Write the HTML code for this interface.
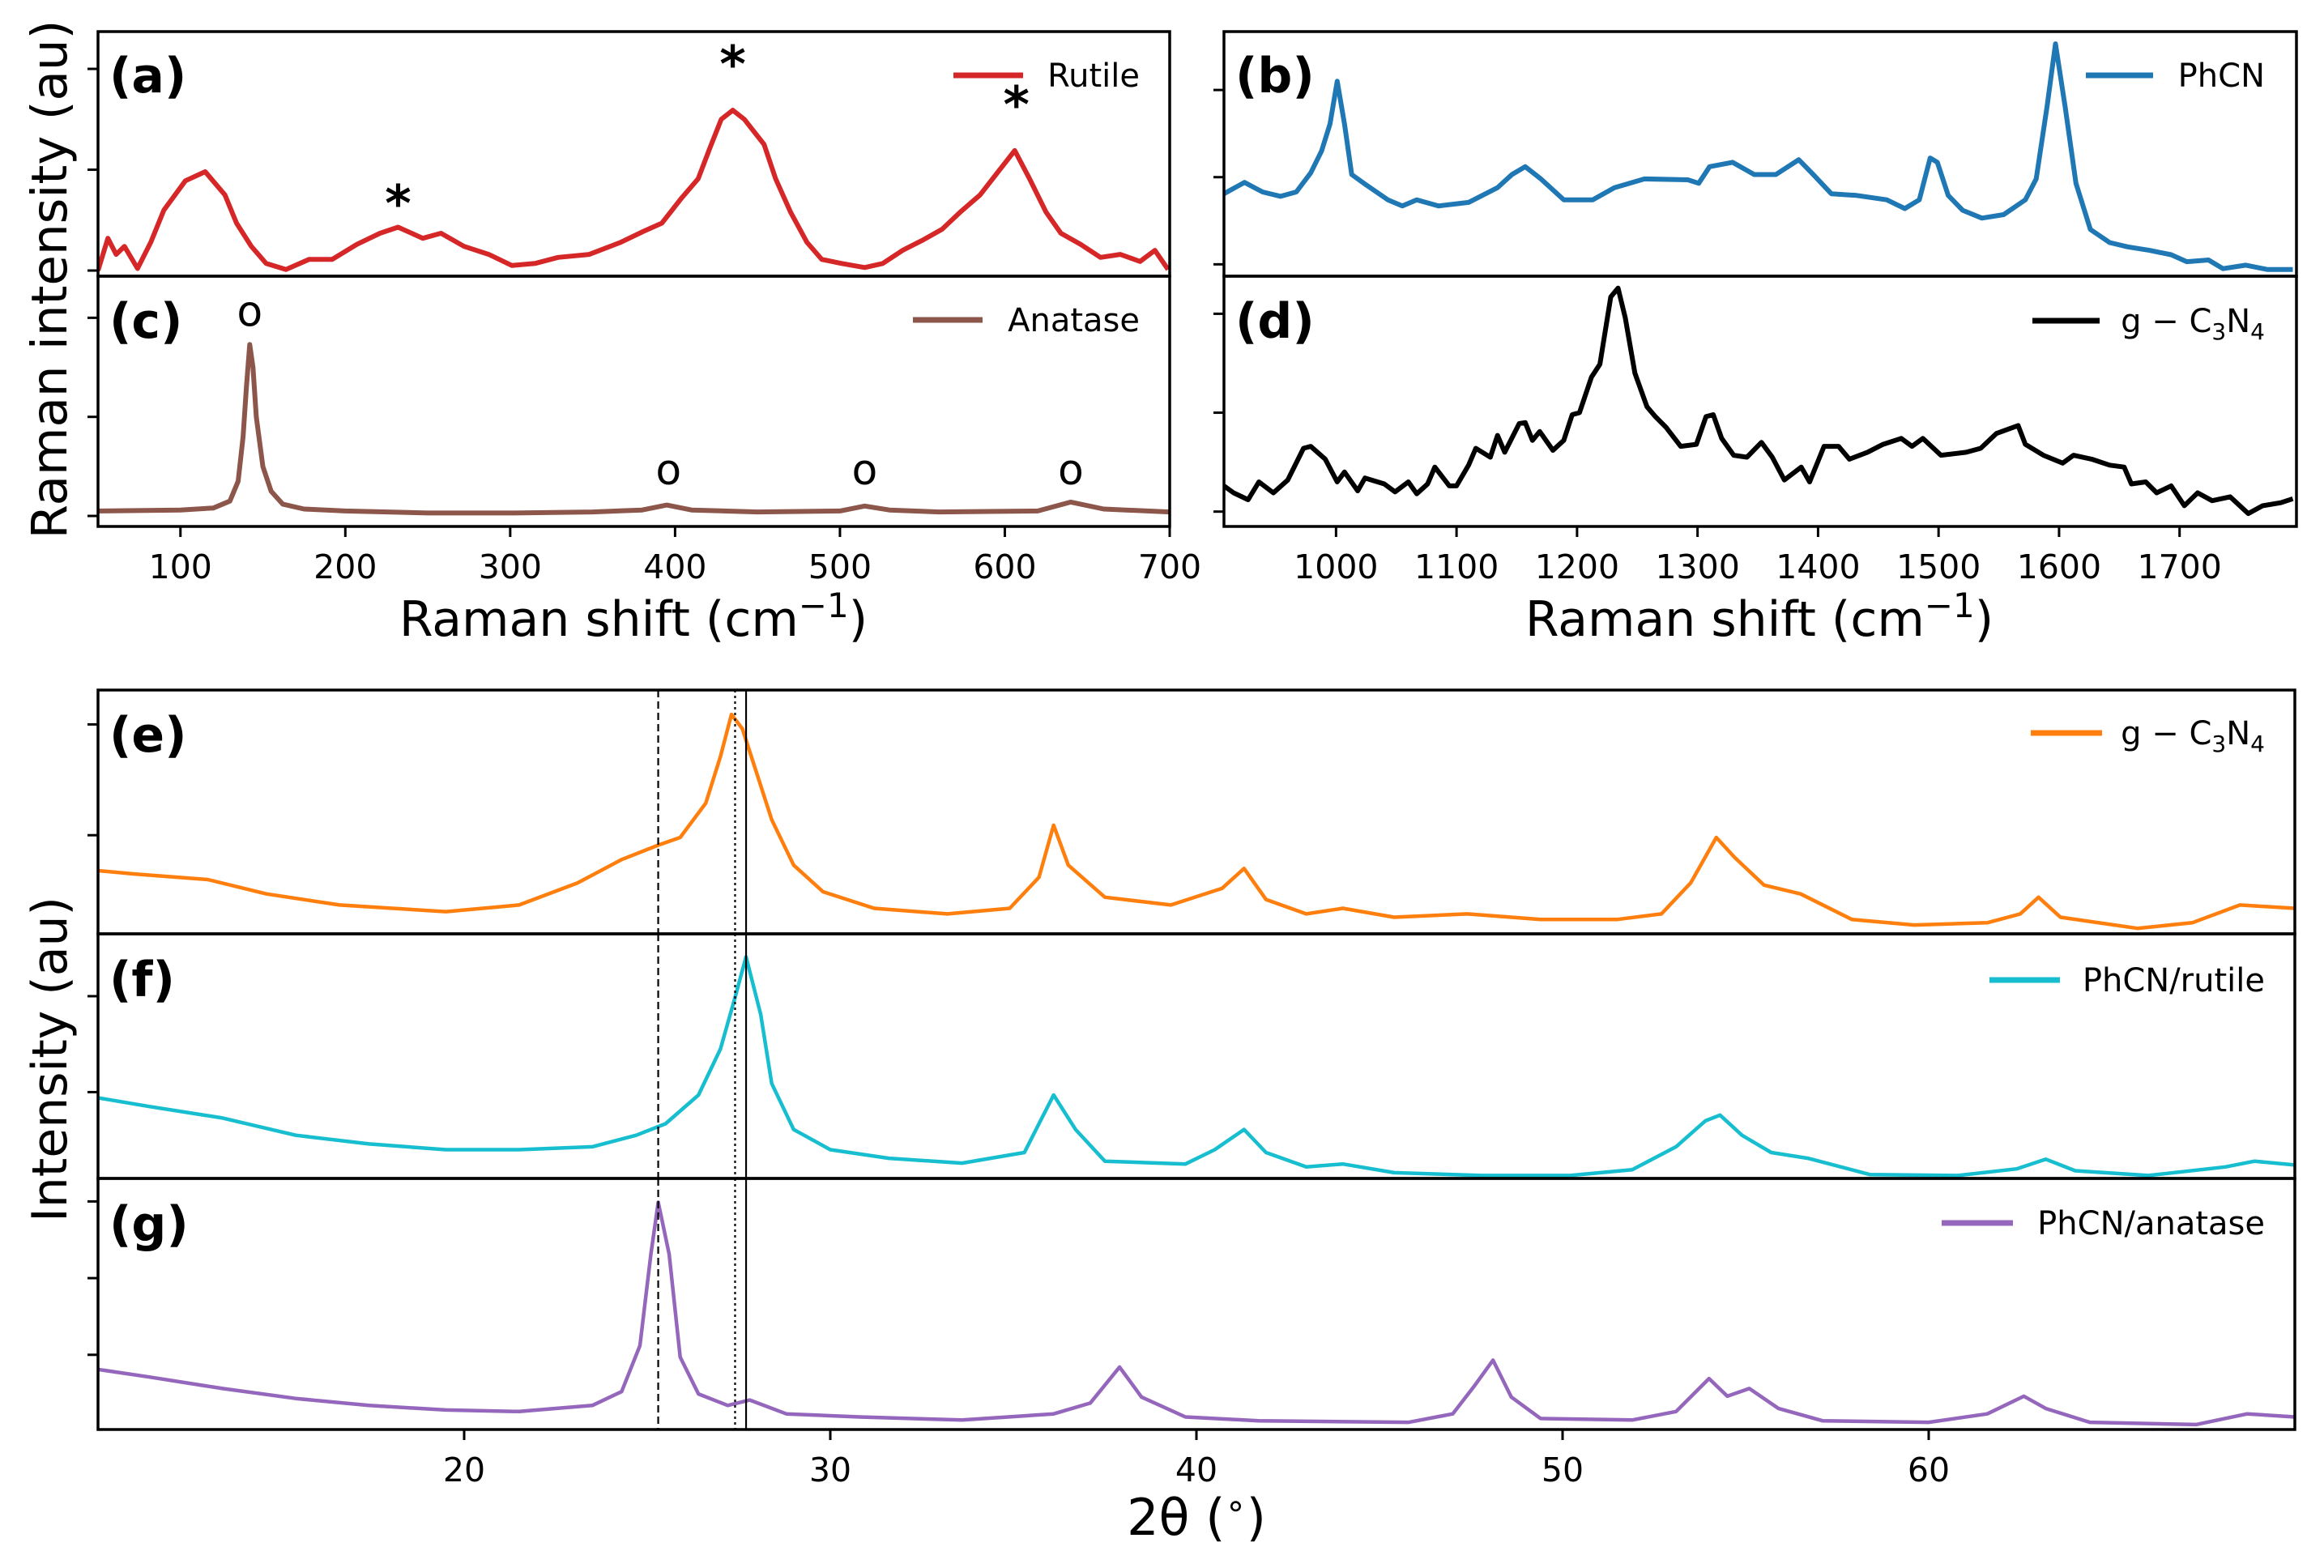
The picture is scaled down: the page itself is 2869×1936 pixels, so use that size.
<!DOCTYPE html>
<html><head><meta charset="utf-8"><style>
html,body{margin:0;padding:0;background:#fff}
svg{display:block;font-family:"DejaVu Sans","Liberation Sans",sans-serif}
</style></head><body>
<svg id="fig" width="2869" height="1936" viewBox="0 0 2869 1936" xmlns="http://www.w3.org/2000/svg">
<rect width="2869" height="1936" fill="#fff"/>
<g id="layer"></g>
<text x="0" y="0" transform="translate(82,345) rotate(-90)" font-size="61" text-anchor="middle">Raman intensity (au)</text>
<text x="0" y="0" transform="translate(82,1308) rotate(-90)" font-size="60" text-anchor="middle">Intensity (au)</text>
<text x="782" y="785" font-size="60" text-anchor="middle">Raman shift (cm<tspan font-size="42" dy="-23">−1</tspan><tspan dy="23">)</tspan></text>
<text x="2172" y="785" font-size="60" text-anchor="middle">Raman shift (cm<tspan font-size="42" dy="-23">−1</tspan><tspan dy="23">)</tspan></text>
<text x="1477" y="1895" font-size="62" text-anchor="middle">2θ (<tspan font-size="42" dy="-22">∘</tspan><tspan dy="22">)</tspan></text>
</svg>
<script>
// ---- data (x values, y values) ----
const rutileX=[50,56,61,66,74,82,90,103,115,127,134,143,152,164,178,192,207,221,232,247,258,272,287,301,315,329,348,367,381,392,404,414,421,428,435,442,454,461,470,480,489,501,515,526,538,550,562,573,585,595,606,615,625,634,646,658,670,682,691,699];
const rutileY=[0,0.32,0.16,0.24,0.02,0.28,0.6,0.89,0.98,0.75,0.47,0.24,0.07,0.01,0.11,0.11,0.26,0.37,0.43,0.32,0.37,0.24,0.16,0.05,0.07,0.13,0.16,0.28,0.39,0.47,0.72,0.91,1.21,1.5,1.59,1.5,1.25,0.91,0.58,0.28,0.11,0.07,0.03,0.07,0.2,0.3,0.41,0.58,0.75,0.96,1.19,0.91,0.58,0.37,0.26,0.13,0.16,0.09,0.2,0.01];
const anataseX=[50,100,120,130,135,138,140,142,144,146,150,155,162,175,200,250,300,350,380,395,410,450,500,515,530,560,620,640,660,700];
const anataseY=[0.05,0.06,0.08,0.15,0.35,0.8,1.3,1.73,1.5,1.0,0.5,0.25,0.12,0.07,0.05,0.03,0.03,0.04,0.06,0.11,0.06,0.04,0.05,0.1,0.06,0.04,0.05,0.14,0.07,0.04];
const phcnX=[907,924,939,954,967,979,988,995,1001,1007,1013,1024,1043,1055,1067,1085,1110,1134,1146,1157,1170,1189,1213,1231,1256,1292,1301,1310,1329,1347,1365,1384,1396,1411,1432,1457,1472,1484,1493,1499,1508,1520,1536,1554,1572,1581,1590,1597,1605,1614,1626,1642,1657,1675,1693,1706,1724,1736,1755,1773,1794];
const phcnY=[0.81,0.94,0.83,0.78,0.83,1.05,1.30,1.61,2.10,1.61,1.03,0.92,0.74,0.67,0.74,0.67,0.71,0.88,1.03,1.12,0.98,0.74,0.74,0.88,0.98,0.97,0.93,1.12,1.17,1.03,1.03,1.20,1.03,0.81,0.79,0.74,0.64,0.74,1.22,1.17,0.79,0.62,0.53,0.57,0.74,0.98,1.81,2.53,1.81,0.93,0.40,0.25,0.20,0.16,0.11,0.03,0.05,-0.05,-0.01,-0.06,-0.06];
const gcnRamanX=[907,915,927,936,948,960,973,979,991,1001,1007,1018,1024,1040,1049,1060,1067,1076,1082,1094,1100,1110,1116,1128,1134,1140,1152,1157,1163,1169,1180,1189,1196,1202,1212,1219,1228,1234,1240,1248,1258,1265,1274,1286,1299,1307,1313,1320,1330,1341,1353,1362,1372,1386,1393,1405,1417,1426,1441,1454,1469,1478,1487,1502,1523,1535,1548,1566,1572,1587,1603,1612,1627,1642,1654,1660,1672,1681,1693,1704,1715,1727,1742,1757,1769,1784,1794];
const gcnRamanY=[0.26,0.19,0.12,0.30,0.19,0.32,0.64,0.66,0.53,0.30,0.40,0.21,0.34,0.28,0.20,0.30,0.18,0.28,0.45,0.26,0.26,0.47,0.64,0.55,0.77,0.60,0.89,0.90,0.72,0.81,0.62,0.72,0.98,1.00,1.36,1.49,2.17,2.26,1.96,1.40,1.06,0.96,0.85,0.66,0.68,0.96,0.98,0.74,0.57,0.55,0.70,0.55,0.32,0.45,0.30,0.66,0.66,0.53,0.60,0.68,0.74,0.66,0.74,0.57,0.60,0.64,0.79,0.87,0.68,0.57,0.49,0.57,0.53,0.47,0.45,0.28,0.30,0.19,0.26,0.06,0.19,0.11,0.15,-0.02,0.06,0.09,0.13];
const gcnXrdX=[10,11,13,14.6,16.6,19.5,21.5,23.1,24.3,25.3,25.9,26.6,27.0,27.3,27.6,28.0,28.4,29.0,29.8,31.2,33.2,34.9,35.7,36.1,36.5,37.5,39.3,40.7,41.3,41.9,43.0,44.0,45.4,47.4,49.4,51.5,52.7,53.5,54.2,54.7,55.5,56.5,57.9,59.6,61.6,62.5,63.0,63.6,65.7,67.2,68.5,70];
const gcnXrdY=[0.68,0.65,0.60,0.47,0.37,0.31,0.37,0.57,0.78,0.91,0.98,1.29,1.71,2.09,1.96,1.55,1.14,0.73,0.49,0.34,0.29,0.34,0.62,1.09,0.73,0.44,0.37,0.52,0.70,0.42,0.29,0.34,0.26,0.29,0.24,0.24,0.29,0.57,0.98,0.80,0.55,0.47,0.24,0.19,0.21,0.29,0.44,0.26,0.16,0.21,0.37,0.34];
const rutXrdX=[10,11.4,13.4,15.4,17.4,19.5,21.5,23.5,24.7,25.5,26.4,27.0,27.4,27.7,28.1,28.4,29.0,30.0,31.6,33.6,35.3,35.7,36.1,36.7,37.5,39.7,40.5,41.3,41.9,43.0,44.0,45.4,47.8,50.2,51.9,53.1,53.9,54.3,54.9,55.7,56.7,58.4,60.8,62.4,63.2,64.0,66.0,68.1,68.9,70];
const rutXrdY=[0.94,0.85,0.73,0.55,0.46,0.40,0.40,0.43,0.55,0.67,0.97,1.45,1.99,2.41,1.81,1.09,0.61,0.40,0.31,0.26,0.37,0.67,0.97,0.61,0.28,0.25,0.40,0.61,0.37,0.22,0.25,0.16,0.13,0.13,0.19,0.43,0.70,0.76,0.55,0.37,0.31,0.14,0.13,0.20,0.30,0.18,0.13,0.22,0.28,0.24];
const anaXrdX=[10,11.4,13.4,15.4,17.4,19.5,21.5,23.5,24.3,24.8,25.1,25.3,25.6,25.9,26.4,27.2,27.8,28.8,30.8,33.6,36.1,37.1,37.9,38.5,39.7,41.7,45.8,47.0,47.6,48.1,48.6,49.4,51.9,53.1,54.0,54.5,55.1,55.9,57.1,60.0,61.6,62.6,63.2,64.4,67.3,68.7,70];
const anaXrdY=[0.81,0.71,0.56,0.43,0.34,0.28,0.26,0.34,0.52,1.12,2.31,2.99,2.31,0.97,0.49,0.34,0.41,0.23,0.19,0.15,0.23,0.37,0.84,0.45,0.19,0.14,0.12,0.23,0.60,0.93,0.45,0.17,0.15,0.26,0.69,0.46,0.56,0.30,0.14,0.12,0.23,0.46,0.30,0.12,0.09,0.23,0.19];
const ramanLeftTicks=[100,200,300,400,500,600,700];
const ramanRightTicks=[1000,1100,1200,1300,1400,1500,1600,1700];
const xrdTicks=[20,30,40,50,60];
const refLines=[25.3,27.4,27.7];

const NS="http://www.w3.org/2000/svg";
const layer=document.getElementById('layer');
function mk(tag,attrs,parent){const e=document.createElementNS(NS,tag);for(const k in attrs)e.setAttribute(k,attrs[k]);(parent||layer).appendChild(e);return e;}
function scale(d0,d1,p0,p1){return v=>p0+(v-d0)/(d1-d0)*(p1-p0);}

function panel(cfg){
  const g=mk('g',{});
  
  
  const sx=scale(cfg.xlim[0],cfg.xlim[1],cfg.x0,cfg.x1);
  const sy=scale(cfg.ylim[0],cfg.ylim[1],cfg.y1,cfg.y0);
  const cp='cp-'+cfg.name;
  const clip=mk('clipPath',{id:cp},g);
  mk('rect',{x:cfg.x0,y:cfg.y0,width:cfg.x1-cfg.x0,height:cfg.y1-cfg.y0},clip);
  let d='';
  for(let i=0;i<cfg.xs.length;i++){d+=(i?'L':'M')+sx(cfg.xs[i]).toFixed(1)+','+sy(cfg.ys[i]).toFixed(1);}
  const p=mk('path',{d:d,fill:'none',stroke:cfg.color,'stroke-width':cfg.lw,'stroke-linejoin':'round','clip-path':'url(#'+cp+')'},g);
  
  
  cfg.yticks.forEach(v=>{const t=mk('line',{x1:cfg.x0-13,x2:cfg.x0,y1:sy(v),y2:sy(v),stroke:'#000','stroke-width':3},g);
    });
  if(cfg.xticks){cfg.xticks.forEach(v=>{const x=sx(v);
    const t=mk('line',{x1:x,x2:x,y1:cfg.y1,y2:cfg.y1+13,stroke:'#000','stroke-width':3},g);
    
    const l=mk('text',{x:x,y:cfg.y1+64,'font-size':41,'text-anchor':'middle'},g);l.textContent=v;
    });}
  if(cfg.vlines){cfg.vlines.forEach((v,i)=>{const x=sx(v);
    const styles=[{'stroke-dasharray':'9,5'},{'stroke-dasharray':'3,4'},{}];
    const a={x1:x,x2:x,y1:cfg.y0,y2:cfg.vy1,stroke:'#000','stroke-width':2.2};Object.assign(a,styles[i]);
    const t=mk('line',a,g);});}
  const fr=mk('rect',{x:cfg.x0,y:cfg.y0,width:cfg.x1-cfg.x0,height:cfg.y1-cfg.y0,fill:'none',stroke:'#000','stroke-width':3.5},g);
  
  const lb=mk('text',{x:cfg.x0+14,y:cfg.labY,'font-size':60,'font-weight':'bold'},g);lb.textContent=cfg.label;
  
  const lg=mk('g',{},g);
  mk('line',{x1:cfg.leg[0],x2:cfg.leg[1],y1:cfg.leg[2],y2:cfg.leg[2],stroke:cfg.color,'stroke-width':7},lg);
  const lt=mk('text',{x:cfg.leg[3],y:cfg.leg[2]+14,'font-size':40,'text-anchor':'end'},lg);
  lt.innerHTML=cfg.legText;
  return {sx,sy,g};
}
const C3N4='g − C<tspan font-size="28" dy="9">3</tspan><tspan dy="-9">N</tspan><tspan font-size="28" dy="9">4</tspan>';
const A=panel({name:'panel-a-rutile',xs:rutileX,ys:rutileY,color:'#d62728',lw:6,x0:121,x1:1444,y0:39,y1:341,xlim:[50,700],ylim:[-0.056,2.37],yticks:[0,1,2],label:'(a)',labY:114,leg:[1177,1263,93,1407],legText:'Rutile'});
const Cc=panel({name:'panel-c-anatase',xs:anataseX,ys:anataseY,color:'#8c564b',lw:6,x0:121,x1:1444,y0:341,y1:650,xlim:[50,700],ylim:[-0.106,2.42],yticks:[0,1,2],xticks:ramanLeftTicks,label:'(c)',labY:417,leg:[1127,1213,395,1407],legText:'Anatase'});
panel({name:'panel-b-phcn',xs:phcnX,ys:phcnY,color:'#1f77b4',lw:6,x0:1511,x1:2835,y0:39,y1:341,xlim:[907,1797],ylim:[-0.136,2.67],yticks:[0,1,2],label:'(b)',labY:114,leg:[2575,2658,93,2796],legText:'PhCN'});
panel({name:'panel-d-gc3n4',xs:gcnRamanX,ys:gcnRamanY,color:'#000000',lw:6,x0:1511,x1:2835,y0:341,y1:650,xlim:[907,1797],ylim:[-0.15,2.38],yticks:[0,1,2],xticks:ramanRightTicks,label:'(d)',labY:417,leg:[2509,2592,396,2796],legText:C3N4});
panel({name:'panel-e-gc3n4-xrd',xs:gcnXrdX,ys:gcnXrdY,color:'#ff7f0e',lw:4.5,x0:121,x1:2833,y0:852,y1:1153,xlim:[10,70],ylim:[0.11,2.31],yticks:[1,2],vlines:refLines,vy1:1153,label:'(e)',labY:928,leg:[2507,2595,905,2796],legText:C3N4});
panel({name:'panel-f-phcn-rutile-xrd',xs:rutXrdX,ys:rutXrdY,color:'#17becf',lw:4.5,x0:121,x1:2833,y0:1153,y1:1455,xlim:[10,70],ylim:[0.1,2.65],yticks:[1,2],vlines:refLines,vy1:1455,label:'(f)',labY:1230,leg:[2456,2543,1210,2796],legText:'PhCN/rutile'});
panel({name:'panel-g-phcn-anatase-xrd',xs:anaXrdX,ys:anaXrdY,color:'#9467bd',lw:4.5,x0:121,x1:2833,y0:1455,y1:1765,xlim:[10,70],ylim:[0.026,3.3],yticks:[1,2,3],xticks:xrdTicks,vlines:refLines,vy1:1765,label:'(g)',labY:1532,leg:[2397,2485,1510,2796],legText:'PhCN/anatase'});
// peak markers
const starX=[232,435,607], starY=[0.62,2.0,1.6];
starX.forEach((v,i)=>{const t=mk('text',{x:A.sx(v),y:A.sy(starY[i])+16,'font-size':62,'font-weight':'bold','text-anchor':'middle'});t.textContent='*';
  });
const oX=[142,396,515,640], oY=[2.05,0.45,0.45,0.45];
oX.forEach((v,i)=>{const t=mk('text',{x:Cc.sx(v),y:Cc.sy(oY[i])+16,'font-size':52,'text-anchor':'middle'});t.textContent='o';
  });
</script>
</body></html>
